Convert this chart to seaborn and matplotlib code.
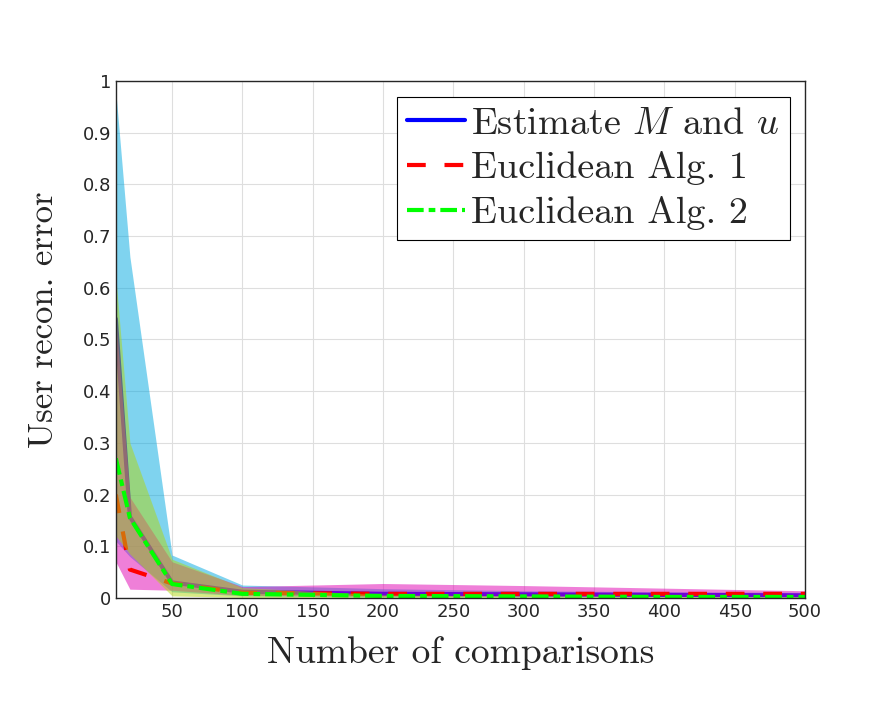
import numpy as np
import pandas as pd
import seaborn as sns
import matplotlib.pyplot as plt
from matplotlib.lines import Line2D

# number of comparisons
n_comp = [10, 20, 50, 100, 200, 300, 400, 500]

# Estimate M and u (blue line, cyan band)
est_mean = [0.54, 0.157, 0.030, 0.012, 0.008, 0.007, 0.006, 0.005]
est_hi = [0.98, 0.66, 0.083, 0.025, 0.018, 0.014, 0.012, 0.011]
est_lo = [0.11, 0.08, 0.012, 0.004, 0.002, 0.002, 0.002, 0.002]

# Euclidean Alg. 1 (red dashed, magenta band)
alg1_mean = [0.20, 0.055, 0.028, 0.010, 0.008, 0.008, 0.008, 0.008]
alg1_hi = [0.54, 0.195, 0.070, 0.022, 0.028, 0.024, 0.019, 0.014]
alg1_lo = [0.07, 0.017, 0.015, 0.005, 0.003, 0.003, 0.003, 0.003]

# Euclidean Alg. 2 (green dash-dot, yellow band)
alg2_mean = [0.27, 0.155, 0.027, 0.008, 0.004, 0.003, 0.002, 0.002]
alg2_hi = [0.62, 0.30, 0.075, 0.020, 0.006, 0.004, 0.003, 0.003]
alg2_lo = [0.12, 0.085, 0.004, 0.001, 0.001, 0.001, 0.001, 0.001]

labels = [r"Estimate $M$ and $u$", "Euclidean Alg. 1", "Euclidean Alg. 2"]

df = pd.DataFrame({"n": n_comp, "est": est_mean, "alg1": alg1_mean, "alg2": alg2_mean})

sns.set_style("white")
plt.rcParams["mathtext.fontset"] = "cm"
plt.rcParams["font.family"] = ["DejaVu Sans"]

red_ls = (0, (4.5, 4.5))
green_ls = (0, (4.0, 1.2, 1.6, 1.2))

fig = plt.figure(figsize=(8.91, 7.03), dpi=100)
ax = fig.add_axes([0.130, 0.1494, 0.7735, 0.7354])

# draw order matters: band, line, band, line, band, line
ax.fill_between(n_comp, est_lo, est_hi, color=(0.0, 0.66, 0.88), alpha=0.5, lw=0, zorder=2)
sns.lineplot(data=df, x="n", y="est", color=(0, 0, 1), lw=3, ax=ax, zorder=3)
ax.fill_between(n_comp, alg1_lo, alg1_hi, color=(0.88, 0.0, 0.70), alpha=0.5, lw=0, zorder=4)
sns.lineplot(data=df, x="n", y="alg1", color=(1, 0, 0), lw=3, ax=ax, zorder=5, linestyle=red_ls)
ax.fill_between(n_comp, alg2_lo, alg2_hi, color=(0.69, 0.84, 0.06), alpha=0.5, lw=0, zorder=6)
sns.lineplot(data=df, x="n", y="alg2", color=(0, 1, 0), lw=3, ax=ax, zorder=7, linestyle=green_ls)

ax.set_xlim(10, 500)
ax.set_ylim(0, 1)
ax.set_xticks(np.arange(50, 501, 50))
yt = np.round(np.arange(0, 1.01, 0.1), 1)
ax.set_yticks(yt)
ax.set_yticklabels([f"{v:g}" for v in yt])

ax.grid(True, color="#dedede", lw=0.8)
ax.set_axisbelow(True)
ax.tick_params(direction="in", length=5, width=1, colors="#262626", labelsize=13,
               top=False, right=False)
for s in ax.spines.values():
    s.set_color("#262626")
    s.set_linewidth(1.0)
    s.set_zorder(10)

ax.set_xlabel("Number of comparisons", family="cmr10", fontsize=27, color="#262626",
              labelpad=11)
ax.set_ylabel("User recon. error", family="cmr10", fontsize=25, color="#262626")
ax.yaxis.set_label_coords(-0.081, 0.538)

handles = [
    Line2D([], [], color=(0, 0, 1), lw=3),
    Line2D([], [], color=(1, 0, 0), lw=3, linestyle=red_ls),
    Line2D([], [], color=(0, 1, 0), lw=3, linestyle=green_ls),
]
leg = ax.legend(handles, labels, loc="upper right", bbox_to_anchor=(790 / 891, 1 - 97 / 703),
                bbox_transform=fig.transFigure, prop={"family": "cmr10", "size": 27.5},
                frameon=True, fancybox=False, edgecolor="black", framealpha=1,
                handlelength=1.5, handletextpad=0.18, borderpad=0.26, labelspacing=0.28,
                borderaxespad=0)
leg.get_frame().set_linewidth(0.8)

fig.savefig("out.png", dpi=100)
